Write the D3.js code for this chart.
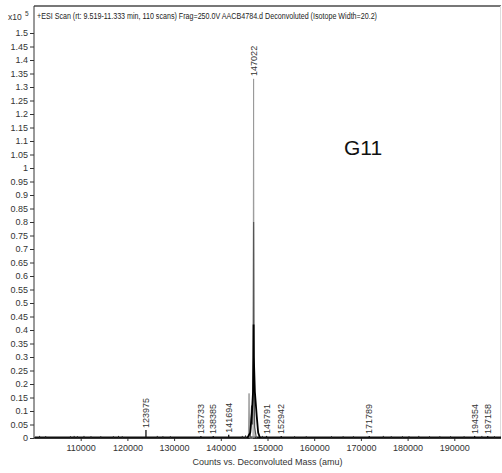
<!DOCTYPE html>
<html>
<head>
<meta charset="utf-8">
<script src="https://cdn.jsdelivr.net/npm/d3@7"></script>
<style>
  body { margin: 0; background: #fff; }
  text { font-family: "Liberation Sans", Arial, sans-serif; }
</style>
</head>
<body>
<svg id="spectrum" width="502" height="473"></svg>
<script>
// Data (intensity in units of x10^5 counts)
const labeledMass = [123975, 135733, 138385, 141694, 147022, 149791, 152942, 171789, 194354, 197158];
const labeledHeight = [0.026, 0.004, 0.004, 0.008, 1.33, 0.004, 0.004, 0.004, 0.004, 0.004];

// small baseline bumps
const noiseMass = [101200, 102500, 107800, 108600, 109300, 110700, 112200, 114300, 117000, 118100, 118900,
  126400, 127600, 129200, 144600, 145300, 148900, 155800, 158300, 163700, 166200, 168400, 174800, 176500,
  178900, 180300, 182400, 184700, 186900, 189200, 192100, 195900, 198600];
const noiseHeight = [0.004, 0.003, 0.003, 0.004, 0.003, 0.004, 0.003, 0.003, 0.003, 0.004, 0.003,
  0.004, 0.003, 0.003, 0.004, 0.006, 0.004, 0.003, 0.003, 0.003, 0.003, 0.003, 0.004, 0.003,
  0.003, 0.003, 0.004, 0.003, 0.003, 0.003, 0.003, 0.004, 0.003];

// overlapping scan traces around the main peak
const traceLightMass = [145900, 146050, 146200, 146900, 147022, 147140];
const traceLightInt = [0, 0.165, 0, 0, 1.33, 0];
const traceMidMass = [146300, 146600, 146800, 146960, 147022, 147090, 147250, 147600];
const traceMidInt = [0, 0.12, 0.05, 0.3, 0.8, 0.3, 0.04, 0];
const traceDarkMass = [145700, 146300, 146650, 146900, 146980, 147022, 147070, 147300, 147700, 148000, 148400];
const traceDarkInt = [0, 0.02, 0.09, 0.17, 0.3, 0.42, 0.3, 0.17, 0.08, 0.02, 0];

const xTicks = [110000, 120000, 130000, 140000, 150000, 160000, 170000, 180000, 190000];
const yTicks = d3.range(0, 31).map((i) => i * 0.05);

const titleText = "+ESI Scan (rt: 9.519-11.333 min, 110 scans) Frag=250.0V AACB4784.d  Deconvoluted (Isotope Width=20.2)";
const xTitle = "Counts vs. Deconvoluted Mass (amu)";
const sampleName = "G11";

const svg = d3.select("#spectrum");
const margin = { top: 6, bottom: 35, left: 34, right: 1 };
const width = +svg.attr("width");
const height = +svg.attr("height");

const xScale = d3.scaleLinear().domain([100000, 200000]).range([margin.left, width - margin.right]);
const yScale = d3.scaleLinear().domain([0, 1.6]).range([height - margin.bottom, margin.top]);

// frame
svg.append("line")
  .attr("x1", margin.left).attr("x2", width - margin.right)
  .attr("y1", margin.top).attr("y2", margin.top)
  .attr("stroke", "#777").attr("stroke-width", 2);
svg.append("line")
  .attr("x1", width - margin.right - 0.5).attr("x2", width - margin.right - 0.5)
  .attr("y1", margin.top).attr("y2", height - margin.bottom)
  .attr("stroke", "#ddd");

// y axis
const yAxis = d3.axisLeft(yScale).tickValues(yTicks).tickSize(4).tickPadding(2)
  .tickFormat((d) => String(+d.toFixed(2)));
const yAxisG = svg.append("g").attr("transform", `translate(${margin.left},0)`).call(yAxis);
yAxisG.select(".domain").attr("d", `M0,${margin.top}V${height - margin.bottom}`).attr("stroke", "#333");
yAxisG.selectAll(".tick line").attr("stroke", "#333");
yAxisG.selectAll("text").attr("font-size", 9).attr("fill", "#333")
  .attr("font-family", "Liberation Sans, Arial, sans-serif");

// x axis
const xAxis = d3.axisBottom(xScale).tickValues(xTicks).tickSize(3).tickPadding(4)
  .tickFormat(d3.format("d"));
const xAxisG = svg.append("g").attr("transform", `translate(0,${height - margin.bottom})`).call(xAxis);
xAxisG.select(".domain").attr("d", `M${margin.left},0H${width - margin.right}`).attr("stroke", "#222").attr("stroke-width", 1.5);
xAxisG.selectAll(".tick line").attr("stroke", "#333");
xAxisG.selectAll("text").attr("font-size", 9).attr("fill", "#333")
  .attr("font-family", "Liberation Sans, Arial, sans-serif");

// baseline trace
svg.append("line")
  .attr("x1", xScale(100200)).attr("x2", xScale(200000))
  .attr("y1", yScale(0) - 0.5).attr("y2", yScale(0) - 0.5)
  .attr("stroke", "#111").attr("stroke-width", 2);

// noise sticks
svg.append("g").selectAll("line")
  .data(noiseMass)
  .join("line")
  .attr("x1", (d) => xScale(d)).attr("x2", (d) => xScale(d))
  .attr("y1", yScale(0)).attr("y2", (d, i) => yScale(noiseHeight[i]) - 1)
  .attr("stroke", "#222").attr("stroke-width", 1);

// labelled peak sticks (except main peak drawn by traces)
svg.append("g").selectAll("line")
  .data(labeledMass.filter((d) => d !== 147022))
  .join("line")
  .attr("x1", (d) => xScale(d)).attr("x2", (d) => xScale(d))
  .attr("y1", yScale(0))
  .attr("y2", (d) => yScale(labeledHeight[labeledMass.indexOf(d)]) - 1)
  .attr("stroke", "#111").attr("stroke-width", 1.3);

const line = d3.line().x((d) => xScale(d[0])).y((d) => yScale(d[1]));
const traces = [
  { m: traceLightMass, v: traceLightInt, color: "#9a9a9a", w: 1 },
  { m: traceMidMass, v: traceMidInt, color: "#555", w: 1.2 },
  { m: traceDarkMass, v: traceDarkInt, color: "#000", w: 1.8 }
];
svg.append("g").selectAll("path")
  .data(traces)
  .join("path")
  .attr("d", (t) => line(t.m.map((m, i) => [m, t.v[i]])))
  .attr("fill", "none")
  .attr("stroke", (t) => t.color)
  .attr("stroke-width", (t) => t.w);

// peak labels
svg.append("g").selectAll("text")
  .data(labeledMass)
  .join("text")
  .attr("transform", (d, i) => `translate(${xScale(d) + 3},${yScale(labeledHeight[i]) - 3}) rotate(-90)`)
  .attr("font-size", 9)
  .attr("fill", "#333")
  .text((d) => d);

// titles
svg.append("text")
  .attr("x", 37).attr("y", 19)
  .attr("font-size", 8.5).attr("fill", "#222")
  .attr("textLength", 340).attr("lengthAdjust", "spacingAndGlyphs")
  .text(titleText);
svg.append("text")
  .attr("x", 8).attr("y", 20)
  .attr("font-size", 8.5).attr("fill", "#333")
  .text("x10");
svg.append("text")
  .attr("x", 25).attr("y", 16)
  .attr("font-size", 6.5).attr("fill", "#333")
  .text("5");
svg.append("text")
  .attr("x", xScale(150000)).attr("y", 465)
  .attr("text-anchor", "middle")
  .attr("font-size", 9).attr("fill", "#333")
  .text(xTitle);
svg.append("text")
  .attr("x", 344).attr("y", 155)
  .attr("font-size", 21).attr("fill", "#111")
  .attr("font-family", "Open Sans, sans-serif")
  .text(sampleName);
</script>
</body>
</html>
